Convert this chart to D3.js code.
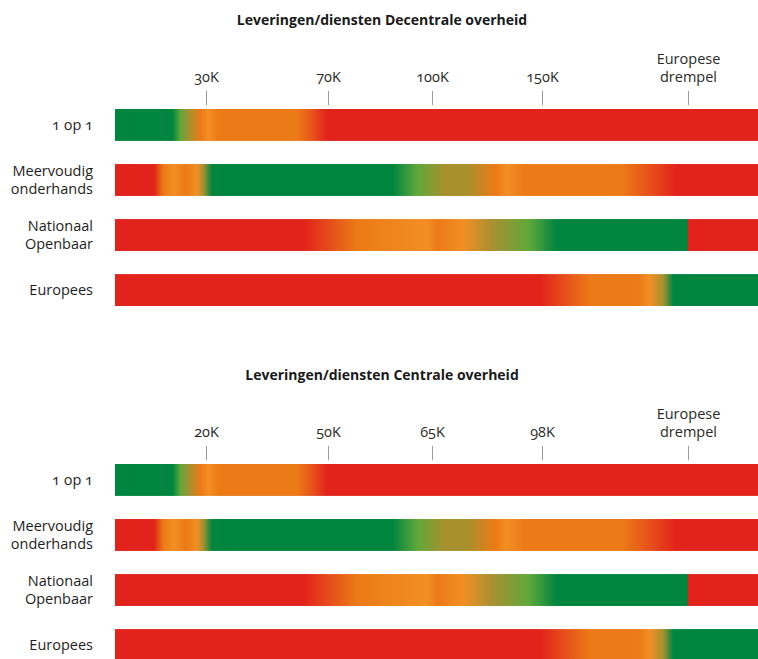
<!DOCTYPE html>
<html>
<head>
<meta charset="utf-8">
<script src="https://cdn.jsdelivr.net/npm/d3@7/dist/d3.min.js"></script>
<style>
  body { margin: 0; background: #fff; }
  text { font-family: "Open Sans", "Noto Sans", sans-serif; font-variant-numeric: oldstyle-nums; }
</style>
</head>
<body>
<script>

// chart content
var rows = ["1 op 1", "Meervoudig onderhands", "Nationaal Openbaar", "Europees"];
var titles = ["Leveringen/diensten Decentrale overheid", "Leveringen/diensten Centrale overheid"];
var ticksDecentraal = ["30K", "70K", "100K", "150K", "Europese drempel"];
var ticksCentraal = ["20K", "50K", "65K", "98K", "Europese drempel"];

// colour stops per row: [position in tick steps (0 = start, 5 = drempel), colour]
var stops1op1 = [[0, "g"], [0.63, "g"], [0.72, "yg"], [0.82, "ol"], [0.94, "o"], [1.02, "lo"], [1.1, "o"],
                 [1.75, "o"], [1.88, "ro"], [1.99, "r"], [6, "r"]];
var stopsMeervoudig = [[0, "r"], [0.43, "r"], [0.53, "o"], [0.65, "lo"], [0.78, "o"], [0.9, "lo"], [0.97, "ol"],
                       [1.05, "g"], [2.62, "g"], [2.86, "yg"], [3.12, "ol"], [3.32, "ol"], [3.58, "o"], [3.68, "lo"],
                       [3.84, "o"], [4.55, "o"], [4.74, "ro"], [4.92, "r"], [6, "r"]];
var stopsNationaal = [[0, "r"], [1.8, "r"], [2.03, "ro"], [2.28, "o"], [2.95, "lo"], [3.05, "o"], [3.28, "lo"],
                      [3.55, "ol"], [3.88, "yg"], [4.1, "g"], [5, "g"], [5, "r"], [6, "r"]];
var stopsEuropees = [[0, "r"], [3.98, "r"], [4.16, "ro"], [4.33, "o"], [4.66, "o"], [4.74, "lo"], [4.83, "ol"],
                     [4.9, "g"], [6, "g"]];
var rowStops = [stops1op1, stopsMeervoudig, stopsNationaal, stopsEuropees];

var palette = { g: "#00853e", yg: "#5fa83b", ol: "#a8902f", o: "#ec7a16", lo: "#f28f24", ro: "#e6501a", r: "#e2231b" };

var w = 758, h = 659;
var panelShift = 355;

var svg = d3.select("body").append("svg")
  .attr("width", w)
  .attr("height", h);

var defs = svg.append("defs");

// piecewise position scale, tick steps -> pixels
var x = d3.scaleLinear()
  .domain([0, 1, 2, 3, 4, 5, 6])
  .range([115, 206, 328, 432, 542, 688, 760]);

var y = d3.scaleBand()
  .domain(rows)
  .range([109, 306])
  .paddingInner(0.42);

// one gradient per row, shared by both panels
rowStops.forEach(function(st, i) {
  var grad = defs.append("linearGradient")
    .attr("id", "grad" + i)
    .attr("gradientUnits", "userSpaceOnUse")
    .attr("x1", x(0)).attr("x2", x(6))
    .attr("y1", 0).attr("y2", 0);
  grad.selectAll("stop")
    .data(st)
    .enter().append("stop")
    .attr("offset", function(d) { return (x(d[0]) - x(0)) / (x(6) - x(0)); })
    .attr("stop-color", function(d) { return palette[d[1]]; });
});

function draw_panel(title, tickLabels, top) {
  var g = svg.append("g").attr("transform", "translate(0," + top + ")");

  g.append("text")
    .attr("x", 382).attr("y", 25)
    .attr("text-anchor", "middle")
    .style("font-weight", "bold")
    .style("font-size", "14px")
    .style("fill", "#1a1a1a")
    .text(title);

  // axis on top of the bars
  var axis = d3.axisTop(x)
    .tickValues([1, 2, 3, 4, 5])
    .tickSize(14)
    .tickPadding(9)
    .tickFormat(function(d) { return tickLabels[d - 1]; });

  var ax = g.append("g")
    .attr("transform", "translate(0,105)")
    .call(axis);
  ax.select(".domain").remove();
  ax.selectAll(".tick line").attr("stroke", "#9a9a9a");
  ax.selectAll(".tick text")
    .style("font-size", "14.5px")
    .style("fill", "#2a2a2a")
    .each(function(d) {
      var words = tickLabels[d - 1].split(" ");
      var t = d3.select(this).text(null);
      words.forEach(function(wd, k) {
        t.append("tspan")
          .attr("x", 0)
          .attr("dy", k == 0 ? -(words.length - 1) * 18 : 18)
          .text(wd);
      });
    });

  // bars
  g.selectAll("rect.bar")
    .data(rows)
    .enter().append("rect")
    .attr("class", "bar")
    .attr("x", x(0))
    .attr("y", function(d) { return y(d); })
    .attr("width", x(6) - x(0))
    .attr("height", y.bandwidth())
    .style("fill", function(d, i) { return "url(#grad" + i + ")"; });

  // row labels
  g.selectAll("text.rowlabel")
    .data(rows)
    .enter().append("text")
    .attr("class", "rowlabel")
    .attr("text-anchor", "end")
    .style("font-size", "14.5px")
    .style("fill", "#1e1e1e")
    .each(function(d) {
      var lines = d == "1 op 1" || d == "Europees" ? [d] : d.split(" ");
      var cy = y(d) + y.bandwidth() / 2;
      var t = d3.select(this);
      lines.forEach(function(ln, k) {
        t.append("tspan")
          .attr("x", 93)
          .attr("y", cy + (k - (lines.length - 1) / 2) * 18 + 5)
          .text(ln);
      });
    });
}

draw_panel(titles[0], ticksDecentraal, 0);
draw_panel(titles[1], ticksCentraal, panelShift);

</script>
</body>
</html>
